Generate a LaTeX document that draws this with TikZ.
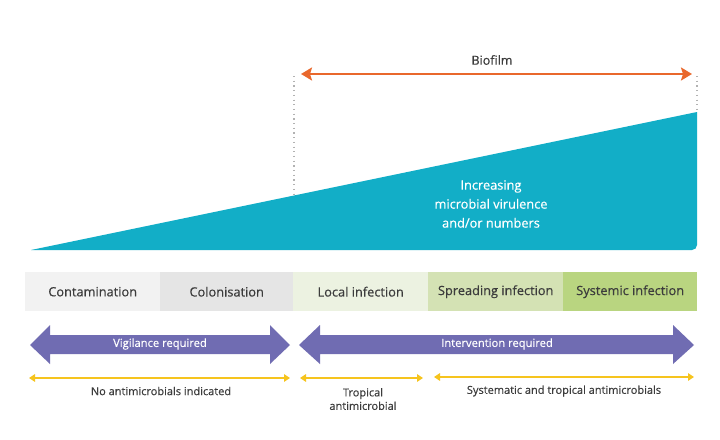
\documentclass[tikz,border=0pt]{standalone}
\usepackage{fontspec}
\setmainfont{Open Sans}[FakeBold=0.35]
\usetikzlibrary{arrows.meta}
\definecolor{tealc}{RGB}{18,174,199}
\definecolor{purp}{RGB}{112,108,178}
\definecolor{orng}{RGB}{233,104,44}
\definecolor{yell}{RGB}{246,196,30}
\definecolor{txt}{RGB}{60,60,60}
\definecolor{bandA}{RGB}{242,242,242}
\definecolor{bandB}{RGB}{229,229,229}
\definecolor{bandC}{RGB}{236,242,225}
\definecolor{bandD}{RGB}{212,226,180}
\definecolor{bandE}{RGB}{185,213,128}
\tikzset{
  band/.style={minimum height=39pt, inner sep=0pt, font=\fontsize{12.8}{14}\selectfont, text=txt, anchor=north west},
  purparrow/.style={fill=purp},
  purplabel/.style={text=white, font=\fontsize{11.2}{13}\selectfont, inner sep=0pt},
  yarrow/.style={draw=yell, line width=2.2pt, {Triangle[length=6pt,width=7.5pt]}-{Triangle[length=6pt,width=7.5pt]}},
  ylabel/.style={text=txt, font=\fontsize{11}{13.5}\selectfont, inner sep=0pt, align=center},
}
\begin{document}
\begin{tikzpicture}[x=1pt,y=-1pt]
\useasboundingbox[fill=white] (0,0) rectangle (720,439);
% biofilm
\coordinate (bl) at (294,76);
\coordinate (br) at (697,76);
\coordinate (blb) at (294,196);
\coordinate (brb) at (697,112);
\draw[gray!60, line width=1.2pt, dash pattern=on 1.2pt off 3.5pt] (bl) -- (blb);
\draw[gray!60, line width=1.2pt, dash pattern=on 1.2pt off 3.5pt] (br) -- (brb);
\coordinate (oa) at (301,74);
\coordinate (ob) at (692,74);
\draw[orng, line width=2.6pt, {Stealth[length=11pt,width=13pt,inset=2pt]}-{Stealth[length=11pt,width=13pt,inset=2pt]}] (oa) -- (ob);
\node[text=txt, font=\fontsize{12.5}{14}\selectfont, inner sep=0pt] (biofilm) at (492,60) {Biofilm};
% teal wedge
\fill[tealc] (31,250) -- (697,112) [rounded corners=5pt] -- (697,250) [sharp corners] -- cycle;
\node[text=white, font=\fontsize{12.8}{19}\selectfont, align=center, inner sep=0pt] (inc) at (491,204) {Increasing\\microbial virulence\\and/or numbers};
% bands
\node[band, fill=bandA, minimum width=135pt] (b1) at (25,272) {Contamination};
\node[band, fill=bandB, minimum width=133pt] (b2) at (160,272) {Colonisation};
\node[band, fill=bandC, minimum width=135pt] (b3) at (293,272) {Local infection};
\node[band, fill=bandD, minimum width=135pt] (b4) at (428,272) {Spreading infection};
\node[band, fill=bandE, minimum width=134pt] (b5) at (563,272) {Systemic infection};
% purple arrows
\fill[purparrow] (30,345) -- (50,325) -- (50,335) -- (270,335) -- (270,325) -- (290,345) -- (270,364) -- (270,354) -- (50,354) -- (50,364) -- cycle;
\node[purplabel] (vig) at (160,344) {Vigilance required};
\fill[purparrow] (299,345) -- (320,325) -- (320,335) -- (673,335) -- (673,325) -- (694,345) -- (673,364) -- (673,354) -- (320,354) -- (320,364) -- cycle;
\node[purplabel] (int) at (497,344) {Intervention required};
% yellow arrows
\coordinate (y1a) at (29,378);
\coordinate (y1b) at (290,378);
\coordinate (y2a) at (300,378);
\coordinate (y2b) at (423,378);
\coordinate (y3a) at (434,377);
\coordinate (y3b) at (694,377);
\draw[yarrow] (y1a) -- (y1b);
\draw[yarrow] (y2a) -- (y2b);
\draw[yarrow] (y3a) -- (y3b);
\node[ylabel] (n1) at (161,391) {No antimicrobials indicated};
\node[ylabel] (n2) at (363,399) {Tropical\\antimicrobial};
\node[ylabel] (n3) at (564,391) {Systematic and tropical antimicrobials};
\end{tikzpicture}
\end{document}
